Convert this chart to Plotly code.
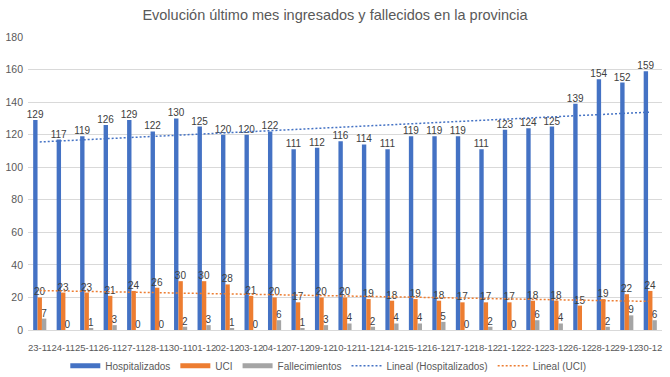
import numpy as np
import plotly.graph_objects as go

fechas = ["23-11", "24-11", "25-11", "26-11", "27-11", "28-11", "30-11", "01-12", "02-12",
          "03-12", "04-12", "07-12", "09-12", "10-12", "11-12", "14-12", "15-12", "16-12",
          "17-12", "18-12", "21-12", "22-12", "23-12", "26-12", "28-12", "29-12", "30-12"]
hospitalizados = [129, 117, 119, 126, 129, 122, 130, 125, 120, 120, 122, 111, 112, 116, 114,
                  111, 119, 119, 119, 111, 123, 124, 125, 139, 154, 152, 159]
uci = [20, 23, 23, 21, 24, 26, 30, 30, 28, 21, 20, 17, 20, 20, 19, 18, 19, 18, 17, 17, 17,
       18, 18, 15, 19, 22, 24]
fallecimientos = [7, 0, 1, 3, 0, 0, 2, 3, 1, 0, 6, 1, 3, 4, 2, 4, 4, 5, 0, 2, 0, 6, 4, None,
                  2, 9, 6]

idx = np.arange(len(fechas))
ph = np.polyfit(idx, hospitalizados, 1)
pu = np.polyfit(idx, uci, 1)
trend_h = np.polyval(ph, idx)
trend_u = np.polyval(pu, idx)

FONT = "Liberation Sans, Arial"
BLUE, ORANGE, GREY = "#4472C4", "#ED7D31", "#A5A5A5"
LBL = dict(size=10, color="#404040", family=FONT)
DOT = "2px,2px"

fig = go.Figure()
series = [("Hospitalizados", hospitalizados, BLUE),
          ("UCI", uci, ORANGE),
          ("Fallecimientos", fallecimientos, GREY)]
for name, vals, col in series:
    fig.add_trace(go.Bar(
        x=fechas, y=vals, name=name, marker=dict(color=col, line=dict(width=0)),
        text=[("" if v is None else str(v)) for v in vals], textposition="outside",
        textangle=0, constraintext="none", cliponaxis=False, textfont=LBL,
        showlegend=False, legendgroup=name,
    ))
fig.add_trace(go.Scatter(x=fechas, y=trend_h, mode="lines", name="Lineal (Hospitalizados)",
                         line=dict(color=BLUE, width=1.5, dash=DOT), showlegend=False))
fig.add_trace(go.Scatter(x=fechas, y=trend_u, mode="lines", name="Lineal (UCI)",
                         line=dict(color=ORANGE, width=1.5, dash=DOT), showlegend=False))

# legend entries (Excel-style wide swatches)
for name, _, col in series:
    fig.add_trace(go.Scatter(x=[None], y=[None], mode="lines", name=name, legendgroup=name,
                             line=dict(color=col, width=5)))
fig.add_trace(go.Scatter(x=[None], y=[None], mode="lines", name="Lineal (Hospitalizados)",
                         line=dict(color=BLUE, width=1.5, dash=DOT)))
fig.add_trace(go.Scatter(x=[None], y=[None], mode="lines", name="Lineal (UCI)",
                         line=dict(color=ORANGE, width=1.5, dash=DOT)))

fig.update_layout(
    width=670, height=377,
    margin=dict(l=28, r=8, t=37, b=47),
    paper_bgcolor="white", plot_bgcolor="white",
    font=dict(family=FONT, color="#595959", size=10),
    title=dict(text="Evolución último mes ingresados y fallecidos en la provincia",
               x=0.5, xanchor="center", y=0.96, yanchor="middle",
               font=dict(size=14.5, color="#595959", family=FONT)),
    barmode="group", bargap=0.44, bargroupgap=0,
    showlegend=True,
    legend=dict(orientation="h", x=0.49, xanchor="center", xref="container",
                y=0.03, yanchor="middle", yref="container",
                font=dict(size=10, color="#595959", family=FONT),
                itemwidth=30, tracegroupgap=0),
    xaxis=dict(type="category", tickfont=dict(size=9.5, color="#595959", family=FONT),
               showgrid=False, showline=True, linecolor="#D9D9D9", ticks="",
               tickangle=0, automargin=False, ticklabelstandoff=9),
    yaxis=dict(range=[0, 180], dtick=20, showgrid=True, gridcolor="#D9D9D9",
               zeroline=False, showline=False, ticks="", automargin=False,
               ticklabelstandoff=4,
               tickfont=dict(size=10.5, color="#595959", family=FONT)),
)

fig.write_html("out.html", config={"displayModeBar": False},
               post_script="document.body.style.margin='0';")
